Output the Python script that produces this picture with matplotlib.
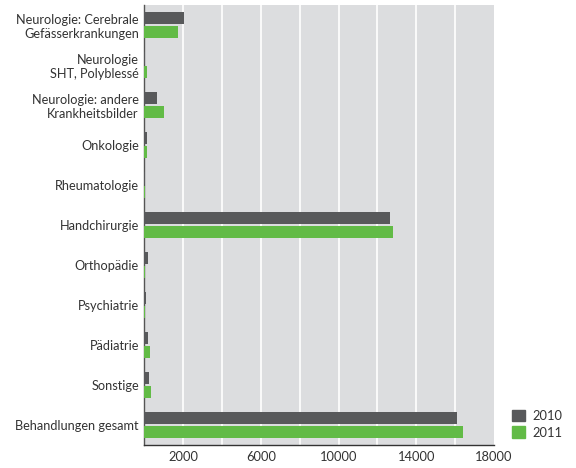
import matplotlib
matplotlib.use("Agg")
import matplotlib.pyplot as plt
import numpy as np
from matplotlib.patches import Patch

categories = [
    "Neurologie: Cerebrale\nGefässerkrankungen",
    "Neurologie\nSHT, Polyblessé",
    "Neurologie: andere\nKrankheitsbilder",
    "Onkologie",
    "Rheumatologie",
    "Handchirurgie",
    "Orthopädie",
    "Psychiatrie",
    "Pädiatrie",
    "Sonstige",
    "Behandlungen gesamt",
]
values_2010 = [2040, 30, 650, 130, 20, 12630, 170, 80, 170, 220, 16080]
values_2011 = [1730, 140, 1000, 130, 20, 12790, 20, 20, 290, 340, 16390]
series_labels = ["2010", "2011"]
xticks = [2000, 6000, 10000, 14000, 18000]

plt.rcParams['font.family'] = ['Lato', 'DejaVu Sans']

fig = plt.figure(figsize=(5.76, 4.68), dpi=100)
ax = fig.add_axes([144.4 / 576, (468 - 445) / 468, (494 - 144.4) / 576, 440 / 468])

c2010 = "#58595b"
c2011 = "#62bb46"
y = np.arange(len(categories))
h = 0.3
ax.barh(y - 0.18, values_2010, height=h, color=c2010, zorder=3)
ax.barh(y + 0.18, values_2011, height=h, color=c2011, zorder=3)

ax.set_facecolor("#dcdddf")
ax.set_xlim(0, 18000)
ax.set_ylim(10.5, -0.5)
for gx in range(2000, 18000, 2000):
    ax.axvline(gx, color="white", lw=1.2, zorder=1)
ax.set_xticks(xticks)
ax.set_xticklabels([str(t) for t in xticks], fontsize=9.3, color="#333333")
ax.set_yticks(y)
ax.set_yticklabels(categories, fontsize=9.2, color="#333333", ha="right")
ax.tick_params(axis="both", length=0, pad=4)
for s in ["top", "right"]:
    ax.spines[s].set_visible(False)
ax.spines["left"].set_color("#555555")
ax.spines["bottom"].set_color("#333333")
ax.spines["left"].set_linewidth(1.0)
ax.spines["bottom"].set_linewidth(1.0)

handles = [Patch(color=c2010), Patch(color=c2011)]
fig.legend(handles, series_labels, loc="upper left",
           bbox_to_anchor=(500 / 576, 1 - 398 / 468), frameon=False,
           fontsize=9.3, handlelength=1.0, handleheight=1.0,
           handletextpad=0.6, labelspacing=0.35, labelcolor="#333333")

fig.savefig("out.png", dpi=100)
